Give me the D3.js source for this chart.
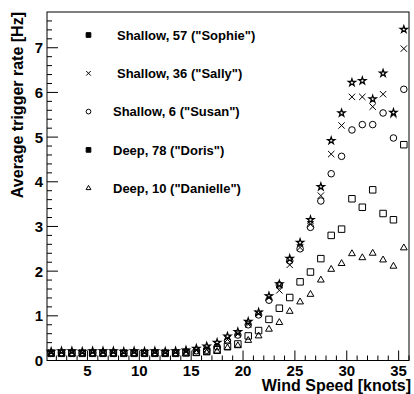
<!DOCTYPE html>
<html>
<head>
<meta charset="utf-8">
<script src="https://cdn.jsdelivr.net/npm/d3@7"></script>
<style>
  html, body { margin: 0; padding: 0; background: #fff; }
  svg { display: block; font-family: "Liberation Sans", Arial, Helvetica, sans-serif; }
</style>
</head>
<body>
<svg id="chart"></svg>
<script>
// trigger rate vs wind speed — 5 hydrophones, ROOT-style plot

// bin centres (knots)
const WIND = [1.5, 2.5, 3.5, 4.5, 5.5, 6.5, 7.5, 8.5, 9.5, 10.5, 11.5, 12.5, 13.5, 14.5, 15.5,
              16.5, 17.5, 18.5, 19.5, 20.5, 21.5, 22.5, 23.5, 24.5, 25.5, 26.5, 27.5, 28.5, 29.5,
              30.5, 31.5, 32.5, 33.5, 34.5, 35.5];

const SOPHIE   = [0.20, 0.21, 0.21, 0.20, 0.21, 0.21, 0.21, 0.20, 0.21, 0.20, 0.21, 0.20, 0.21, 0.23, 0.27,
                  0.32, 0.40, 0.54, 0.64, 0.87, 1.08, 1.44, 1.71, 2.28, 2.64, 3.15, 3.89, 4.92, 5.54,
                  6.22, 6.26, 5.85, 6.43, 5.55, 7.41];
const SALLY    = [0.18, 0.18, 0.18, 0.18, 0.18, 0.18, 0.18, 0.18, 0.18, 0.18, 0.18, 0.18, 0.18, 0.20, 0.23,
                  0.25, 0.35, 0.47, 0.59, 0.81, 1.05, 1.41, 1.57, 2.14, 2.53, 3.05, 3.69, 4.62, 5.26,
                  5.90, 5.90, 5.68, 5.96, 5.50, 6.98];
const SUSAN    = [0.17, 0.17, 0.17, 0.17, 0.17, 0.17, 0.17, 0.17, 0.17, 0.17, 0.17, 0.17, 0.17, 0.19, 0.22,
                  0.23, 0.31, 0.44, 0.57, 0.80, 1.02, 1.35, 1.69, 2.23, 2.50, 2.98, 3.57, 4.18, 4.57,
                  5.16, 5.28, 5.28, 5.54, 4.98, 6.07];
const DORIS    = [0.16, 0.16, 0.16, 0.16, 0.16, 0.16, 0.16, 0.16, 0.16, 0.16, 0.16, 0.16, 0.16, 0.17, 0.18,
                  0.21, 0.24, 0.32, 0.37, 0.55, 0.67, 0.92, 1.17, 1.41, 1.76, 1.98, 2.28, 2.80, 2.94,
                  3.62, 3.43, 3.82, 3.29, 3.15, 4.83];
const DANIELLE = [0.15, 0.15, 0.15, 0.15, 0.15, 0.15, 0.15, 0.15, 0.15, 0.15, 0.15, 0.15, 0.15, 0.15, 0.16,
                  0.17, 0.20, 0.28, 0.33, 0.45, 0.55, 0.70, 0.85, 1.10, 1.31, 1.48, 1.80, 2.04, 2.17,
                  2.39, 2.30, 2.40, 2.25, 2.11, 2.52];

const X_TICKS = [5, 10, 15, 20, 25, 30, 35];
const Y_TICKS = [0, 1, 2, 3, 4, 5, 6, 7];

const X_TITLE = 'Wind Speed [knots]';
const Y_TITLE = 'Average trigger rate [Hz]';

// legend label + marker drawn in legend (ROOT legend shows filled squares for two of them)
const SERIES = [
    { label: 'Shallow, 57 ("Sophie")',   values: SOPHIE,   plot: 'star',     legend: 'fsquare', lx: 117 },
    { label: 'Shallow, 36 ("Sally")',    values: SALLY,    plot: 'cross',    legend: 'cross',   lx: 117 },
    { label: 'Shallow, 6 ("Susan")',     values: SUSAN,    plot: 'circle',   legend: 'circle',  lx: 113 },
    { label: 'Deep, 78 ("Doris")',       values: DORIS,    plot: 'square',   legend: 'fsquare', lx: 113 },
    { label: 'Deep, 10 ("Danielle")',    values: DANIELLE, plot: 'triangle', legend: 'triangle',lx: 113 },
];

const W = 414, H = 394;
const frame = { left: 47, right: 409, top: 12, bottom: 360.5 };

const svg = d3.select('#chart')
    .attr('width', W)
    .attr('height', H)
    .attr('viewBox', `0 0 ${W} ${H}`);

const x = d3.scaleLinear().domain([1.1, 36]).range([frame.left, frame.right]);
const y = d3.scaleLinear().domain([0, 7.8]).range([frame.bottom, frame.top]);

// ── Marker paths ──────────────────────────────────────────────────────────
function crossPath(s) {
    return `M${-s},${-s}L${s},${s}M${-s},${s}L${s},${-s}`;
}
function markerPath(type, small) {
    const k = small ? 0.72 : 1;
    switch (type) {
        case 'star':     return d3.symbol(d3.symbolStar, 16)();
        case 'square':   return d3.symbol(d3.symbolSquare, 42 * k * k)();
        case 'fsquare':  return d3.symbol(d3.symbolSquare, 42 * k * k)();
        case 'circle':   return d3.symbol(d3.symbolCircle, 34 * k * k)();
        case 'triangle': return d3.symbol(d3.symbolTriangle, 20 * k * k)();
        case 'cross':    return crossPath(3.2 * k);
    }
}
function drawMarker(g, type, small) {
    return g.append('path')
        .attr('d', markerPath(type, small))
        .attr('fill', type === 'fsquare' ? '#000' : 'none')
        .attr('stroke', '#000')
        .attr('stroke-width', type === 'star' ? 1.25 : 1);
}

// ── Data points ───────────────────────────────────────────────────────────
const dataG = svg.append('g');
SERIES.slice().reverse().forEach(s => {
    const g = dataG.append('g');
    s.values.forEach((v, i) => {
        const m = drawMarker(g, s.plot, false);
        m.attr('transform', `translate(${x(WIND[i])},${y(v)})`);
    });
});

// ── Frame + ticks (inward, ROOT style) ────────────────────────────────────
svg.append('rect')
    .attr('x', frame.left).attr('y', frame.top)
    .attr('width', frame.right - frame.left)
    .attr('height', frame.bottom - frame.top)
    .attr('fill', 'none').attr('stroke', '#000').attr('stroke-width', 1);

const tickG = svg.append('g').attr('stroke', '#000').attr('stroke-width', 1);

// x: minor each knot, major each 5
d3.range(2, 36.01, 1).forEach(v => {
    const major = X_TICKS.includes(v);
    tickG.append('line')
        .attr('x1', x(v)).attr('x2', x(v))
        .attr('y1', frame.bottom).attr('y2', frame.bottom - (major ? 10 : 5));
});
// y: minor each 0.2, major each 1
d3.range(0.2, 7.8, 0.2).forEach(v => {
    const major = Math.abs(v - Math.round(v)) < 1e-6;
    tickG.append('line')
        .attr('x1', frame.left).attr('x2', frame.left + (major ? 11 : 5))
        .attr('y1', y(v)).attr('y2', y(v));
});

// ── Tick labels ───────────────────────────────────────────────────────────
svg.append('g').selectAll('text')
    .data(X_TICKS)
    .join('text')
    .attr('x', d => x(d))
    .attr('y', 375.5)
    .attr('text-anchor', 'middle')
    .attr('font-size', '15px')
    .attr('font-weight', 'bold')
    .text(d => d);

svg.append('g').selectAll('text')
    .data(Y_TICKS)
    .join('text')
    .attr('x', 43)
    .attr('y', d => y(d))
    .attr('dy', '0.36em')
    .attr('text-anchor', 'end')
    .attr('font-size', '15px')
    .attr('font-weight', 'bold')
    .text(d => d);

// ── Axis titles ───────────────────────────────────────────────────────────
svg.append('text')
    .attr('x', 411).attr('y', 391)
    .attr('text-anchor', 'end')
    .attr('font-size', '16px')
    .attr('font-weight', 'bold')
    .text(X_TITLE);

svg.append('text')
    .attr('transform', `translate(23, ${frame.top}) rotate(-90)`)
    .attr('text-anchor', 'end')
    .attr('font-size', '16px')
    .attr('font-weight', 'bold')
    .text(Y_TITLE);

// ── Legend ────────────────────────────────────────────────────────────────
const legG = svg.append('g');
SERIES.forEach((s, i) => {
    const ly = 35 + i * 38.3;
    drawMarker(legG, s.legend, true).attr('transform', `translate(88.5,${ly})`);
    legG.append('text')
        .attr('x', s.lx).attr('y', ly)
        .attr('dy', '0.36em')
        .attr('font-size', '13px')
        .attr('font-weight', 'bold')
        .text(s.label);
});
</script>
</body>
</html>
